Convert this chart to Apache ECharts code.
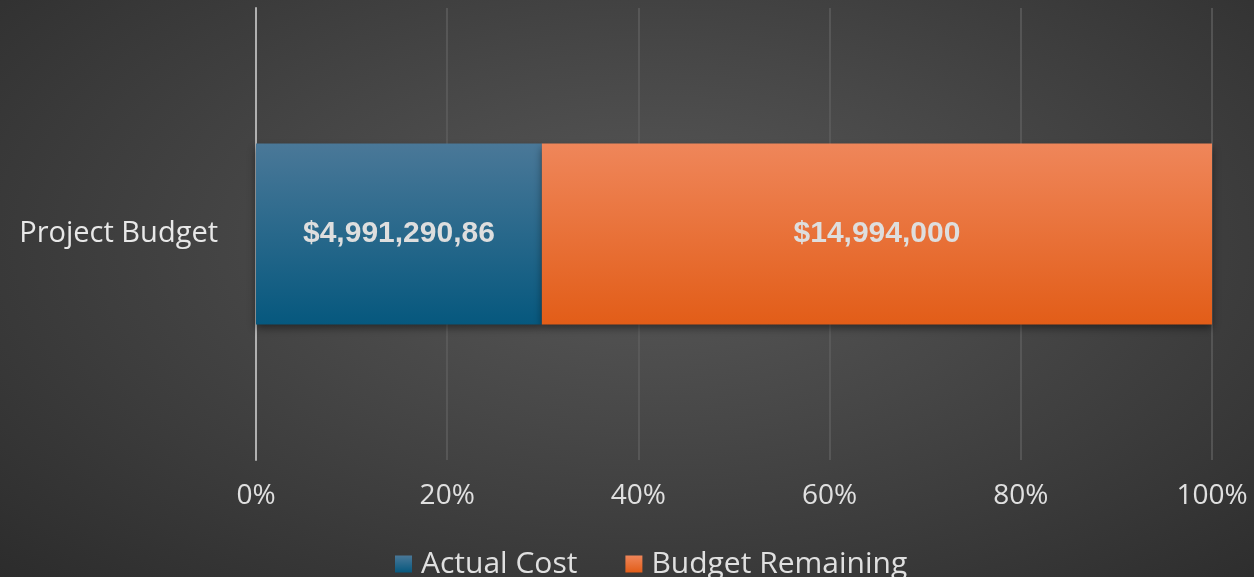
<!DOCTYPE html>
<html>
<head>
<meta charset="utf-8">
<script src="https://cdn.jsdelivr.net/npm/echarts@6/dist/echarts.min.js"></script>
<style>
  html, body { margin: 0; padding: 0; }
  #chart {
    width: 1254px; height: 577px;
    background: radial-gradient(ellipse at 52% 42%, #585858 0%, #474747 40%, #2c2c2c 100%);
  }
</style>
</head>
<body>
<div id="chart"></div>
<script>
const categories = ['Project Budget'];
const seriesNames = ['Actual Cost', 'Budget Remaining'];
// share of the bar in percent
const actualShare = [29.9];
const remainingShare = [70.1];
// labels as printed inside the bars
const actualLabels = ['$4,991,290,86'];
const remainingLabels = ['$14,994,000'];
const tickValues = [0, 20, 40, 60, 80, 100];

const chart = echarts.init(document.getElementById('chart'));

const vGrad = (top, bottom) => new echarts.graphic.LinearGradient(0, 0, 0, 1, [
  { offset: 0, color: top },
  { offset: 1, color: bottom }
]);

const labelStyle = {
  show: true,
  position: 'inside',
  color: '#dedede',
  fontFamily: 'Liberation Sans',
  fontWeight: 'bold',
  fontSize: 30
};

const option = {
  backgroundColor: 'transparent',
  textStyle: { fontFamily: 'Open Sans' },
  grid: { left: 256, right: 42, top: 8, bottom: 117, containLabel: false },
  legend: {
    top: 544,
    left: 390,
    itemWidth: 17,
    itemHeight: 17,
    itemGap: 48,
    icon: 'rect',
    textStyle: { color: '#e0e0e0', fontSize: 30, fontFamily: 'Open Sans', padding: [0, 0, 0, 4] },
    data: seriesNames
  },
  xAxis: {
    type: 'value',
    min: 0,
    max: 100,
    interval: 20,
    axisLine: { show: false },
    axisTick: { show: false },
    axisLabel: {
      color: '#e0e0e0',
      fontSize: 28,
      margin: 22,
      formatter: v => tickValues.includes(v) ? v + '%' : ''
    },
    splitLine: { show: true, lineStyle: { color: '#5e5e5e', width: 1.5 } }
  },
  yAxis: {
    type: 'category',
    data: categories,
    axisLine: { show: true, lineStyle: { color: '#b0b0b0', width: 2 } },
    axisTick: { show: false },
    axisLabel: { color: '#e8e8e8', fontSize: 29, margin: 38 }
  },
  series: [
    {
      name: seriesNames[0],
      type: 'bar',
      stack: 'total',
      barWidth: '40%',
      data: actualShare,
      itemStyle: {
        color: vGrad('#4a7898', '#06587e'),
        shadowColor: 'rgba(0,0,0,0.45)',
        shadowBlur: 8,
        shadowOffsetY: 4
      },
      label: Object.assign({}, labelStyle, { formatter: p => actualLabels[p.dataIndex] })
    },
    {
      name: seriesNames[1],
      type: 'bar',
      stack: 'total',
      data: remainingShare,
      itemStyle: {
        color: vGrad('#ef865a', '#e25d18'),
        shadowColor: 'rgba(0,0,0,0.45)',
        shadowBlur: 8,
        shadowOffsetY: 4
      },
      label: Object.assign({}, labelStyle, { formatter: p => remainingLabels[p.dataIndex] })
    }
  ]
};

chart.setOption(option);
</script>
</body>
</html>
